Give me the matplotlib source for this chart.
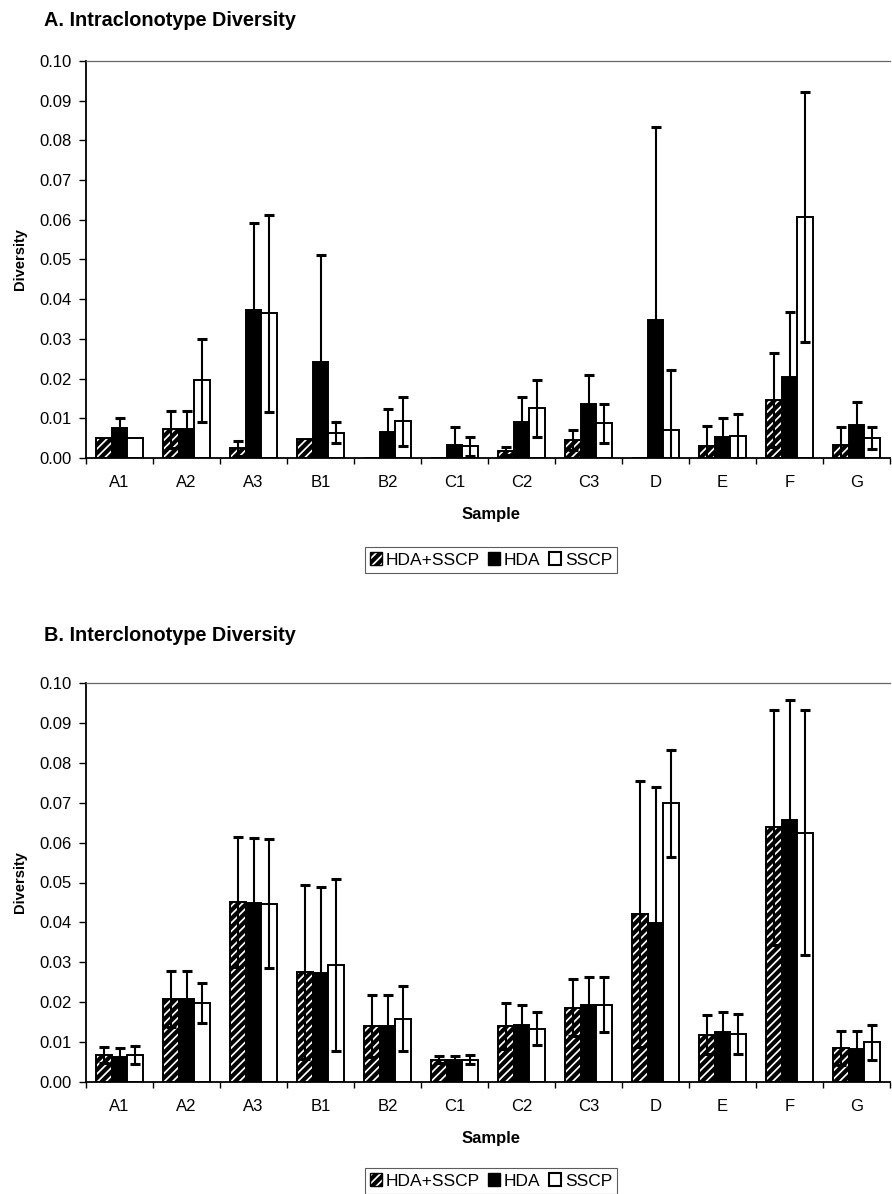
import numpy as np
import matplotlib
matplotlib.use('Agg')
import matplotlib.pyplot as plt
from matplotlib.patches import Patch

plt.rcParams['font.family'] = ['Liberation Sans', 'DejaVu Sans']
plt.rcParams['hatch.linewidth'] = 3.0

samples = ['A1', 'A2', 'A3', 'B1', 'B2', 'C1', 'C2', 'C3', 'D', 'E', 'F', 'G']
methods = ['HDA+SSCP', 'HDA', 'SSCP']

# A. intraclonotype diversity (mean and error)
intra_both = [0.0050, 0.0072, 0.0024, 0.0048, 0.0, 0.0, 0.0017, 0.0045, 0.0, 0.0030, 0.0146, 0.0033]
intra_both_err = [0, 0.0046, 0.0019, 0, 0, 0, 0.0010, 0.0026, 0, 0.0051, 0.0118, 0.0046]
intra_hda = [0.0075, 0.0072, 0.0373, 0.0241, 0.0065, 0.0034, 0.0091, 0.0136, 0.0348, 0.0054, 0.0205, 0.0083]
intra_hda_err = [0.0027, 0.0046, 0.0220, 0.0271, 0.0058, 0.0045, 0.0062, 0.0073, 0.0485, 0.0048, 0.0164, 0.0058]
intra_sscp = [0.0050, 0.0196, 0.0364, 0.0064, 0.0092, 0.0030, 0.0125, 0.0087, 0.0071, 0.0055, 0.0608, 0.0050]
intra_sscp_err = [0, 0.0105, 0.0248, 0.0026, 0.0061, 0.0024, 0.0071, 0.0049, 0.0151, 0.0056, 0.0315, 0.0027]

# B. interclonotype diversity (mean and error)
inter_both = [0.0068, 0.0209, 0.0451, 0.0275, 0.0140, 0.0056, 0.0140, 0.0186, 0.0421, 0.0118, 0.0638, 0.0085]
inter_both_err = [0.0020, 0.0070, 0.0162, 0.0218, 0.0078, 0.0009, 0.0057, 0.0071, 0.0333, 0.0049, 0.0294, 0.0042]
inter_hda = [0.0063, 0.0209, 0.0449, 0.0273, 0.0140, 0.0054, 0.0142, 0.0192, 0.0398, 0.0125, 0.0657, 0.0082]
inter_hda_err = [0.0023, 0.0070, 0.0162, 0.0215, 0.0078, 0.0011, 0.0052, 0.0071, 0.0342, 0.0050, 0.0300, 0.0045]
inter_sscp = [0.0068, 0.0198, 0.0447, 0.0293, 0.0159, 0.0056, 0.0134, 0.0194, 0.0698, 0.0121, 0.0625, 0.0099]
inter_sscp_err = [0.0022, 0.0050, 0.0162, 0.0215, 0.0081, 0.0012, 0.0042, 0.0069, 0.0135, 0.0050, 0.0307, 0.0044]

W, H = 892, 1194


def px(x, y):
    return x / W, 1 - y / H


def bar_panel(ax, series, errs):
    x = np.arange(len(samples)) + 0.5
    width = 0.233
    styles = [dict(facecolor='white', hatch='////'),
              dict(facecolor='black'),
              dict(facecolor='white')]
    for i, (vals, err, st) in enumerate(zip(series, errs, styles)):
        pos = x + (i - 1) * width
        ax.bar(pos, vals, width, edgecolor='black', linewidth=1.4, zorder=2, **st)
        vals = np.array(vals)
        err = np.array(err)
        keep = err > 0
        ax.errorbar(pos[keep], vals[keep], yerr=err[keep], fmt='none', ecolor='black',
                    elinewidth=1.5, capsize=3.5, capthick=2.2, zorder=3)

    ax.set_xlim(0, len(samples))
    ax.set_ylim(0, 0.1)
    ax.set_yticks(np.arange(0, 0.101, 0.01))
    ax.set_yticklabels(['%.2f' % v for v in np.arange(0, 0.101, 0.01)])
    ax.set_xticks(np.arange(len(samples) + 1))
    ax.set_xticklabels([])
    ax.set_xticks(x, minor=True)
    ax.set_xticklabels(samples, minor=True)
    ax.tick_params(axis='x', which='major', direction='out', length=4, width=1)
    ax.tick_params(axis='x', which='minor', length=0, pad=12, labelsize=12)
    ax.tick_params(axis='y', direction='out', length=5, width=1, pad=5, labelsize=12)
    ax.spines['right'].set_visible(False)
    ax.spines['top'].set_color('#666666')
    ax.spines['top'].set_linewidth(0.9)
    ax.spines['left'].set_linewidth(1.3)
    ax.spines['bottom'].set_linewidth(1.3)


fig = plt.figure(figsize=(W / 100, H / 100), dpi=100)

handles = [Patch(facecolor='white', edgecolor='black', hatch='////', linewidth=1.0),
           Patch(facecolor='black', edgecolor='black', linewidth=1.0),
           Patch(facecolor='white', edgecolor='black', linewidth=1.5)]

panels = [
    ('A. Intraclonotype Diversity', 26, 61, 458,
     [intra_both, intra_hda, intra_sscp], [intra_both_err, intra_hda_err, intra_sscp_err], 560),
    ('B. Interclonotype Diversity', 641, 683, 1082,
     [inter_both, inter_hda, inter_sscp], [inter_both_err, inter_hda_err, inter_sscp_err], 1181),
]

for title, ty, top, bottom, series, errs, ly in panels:
    left, right = 86, 890
    ax = fig.add_axes([left / W, 1 - bottom / H, (right - left) / W, (bottom - top) / H])
    bar_panel(ax, series, errs)

    fig.text(*px(44, ty), title, fontsize=14.3, fontweight='bold', ha='left', va='baseline')
    fig.text(*px(20, (top + bottom) / 2), 'Diversity', fontsize=10.5, fontweight='bold',
             rotation=90, ha='center', va='center')
    fig.text(*px(491, bottom + 57), 'Sample', fontsize=12, fontweight='bold',
             ha='center', va='center')

    leg = fig.legend(handles, methods, loc='center', bbox_to_anchor=px(491, ly), ncol=3,
                     fontsize=12.5, frameon=True, fancybox=False, handlelength=0.7,
                     handleheight=0.7, handletextpad=0.2, columnspacing=0.5,
                     borderpad=0.3, borderaxespad=0)
    leg.get_frame().set_edgecolor('#333333')
    leg.get_frame().set_linewidth(0.8)

fig.savefig('out.png', dpi=100)
